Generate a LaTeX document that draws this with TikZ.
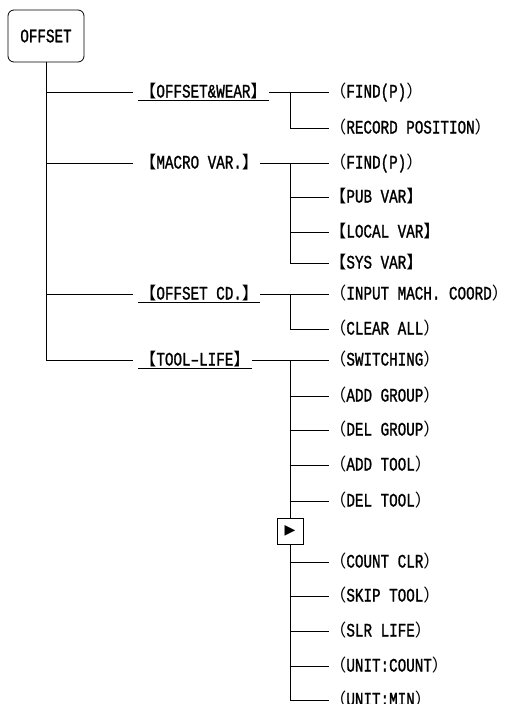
\documentclass[tikz,border=0pt]{standalone}
\usepackage{fontspec}
\setmainfont[FakeStretch=0.75,FakeBold=1.2]{Liberation Mono}
\newfontfamily\cjk{Noto Sans CJK SC}
\newfontfamily\symfont{DejaVu Sans}
\newcommand{\cj}[1]{{\cjk\fontsize{17}{17}\selectfont #1}}
\newcommand{\lb}{\cj{【}}
\newcommand{\rb}{\cj{】}}
\newcommand{\lp}{\cj{（}}
\newcommand{\rp}{\cj{）}}

\begin{document}
\begin{tikzpicture}[x=1pt,y=-1pt,line width=0.8pt,font=\fontsize{19}{19}\selectfont,
  root/.style={draw,rounded corners=6pt,minimum width=76pt,minimum height=52pt},
  menu/.style={anchor=west,inner xsep=1pt,inner ysep=1.5pt,text height=12pt,text depth=1pt},
  sub/.style={anchor=west,inner xsep=0pt,inner ysep=1.5pt,text height=12pt,text depth=1pt}]
  \useasboundingbox (0,0) rectangle (510,704);
  \node[root] (offset) at (46,36) {OFFSET};
  % primer nivel
  \node[menu] (wear)  at (138,92)  {\lb OFFSET\&WEAR\rb};
  \node[menu] (macro) at (138,163) {\lb MACRO VAR.\rb};
  \node[menu] (cd)    at (138,294) {\lb OFFSET CD.\rb};
  \node[menu] (life)  at (138,360) {\lb TOOL–LIFE\rb};
  \foreach \n in {wear,cd,life} \draw (\n.south west) -- (\n.south east);
  \draw[shorten >=5pt] (offset.south) |- (life.west);
  \foreach \n in {wear,macro,cd} \draw[shorten >=5pt] (offset.south |- \n.west) -- (\n.west);
  % segundo nivel
  \node[sub] (wfind) at (329,92)  {\lp FIND(P)\rp};
  \node[sub] (wrec)  at (329,128) {\lp RECORD POSITION\rp};
  \node[sub] (mfind) at (329,163) {\lp FIND(P)\rp};
  \node[sub] (pub)   at (329,197) {\lb PUB VAR\rb};
  \node[sub] (local) at (329,232) {\lb LOCAL VAR\rb};
  \node[sub] (sys)   at (329,263) {\lb SYS VAR\rb};
  \node[sub] (input) at (329,294) {\lp INPUT MACH. COORD\rp};
  \node[sub] (clear) at (329,329) {\lp CLEAR ALL\rp};
  \foreach \n/\y/\t in {sw/360/SWITCHING,addg/396/ADD GROUP,delg/430/DEL GROUP,addt/465/ADD TOOL,delt/501/DEL TOOL,
    cclr/562/COUNT CLR,skip/596/SKIP TOOL,slr/631/SLR LIFE,ucount/666/UNIT:COUNT,umin/700/UNIT:MIN}
    \node[sub] (\n) at (329,\y) {\lp\t\rp};
  \coordinate (jw) at (290,92); \coordinate (jm) at (290,163);
  \coordinate (jc) at (290,294); \coordinate (jl) at (290,360);
  \draw (wear.east) -- (wfind.west); \draw (jw) |- (wrec.west);
  \draw (macro.east) -- (mfind.west); \draw (jm) |- (sys.west);
  \foreach \n in {pub,local} \draw (jm |- \n.west) -- (\n.west);
  \draw (cd.east) -- (input.west); \draw (jc) |- (clear.west);
  \draw (life.east) -- (sw.west); \draw (jl) |- (umin.west);
  \foreach \n in {addg,delg,addt,delt,cclr,skip,slr,ucount} \draw (jl |- \n.west) -- (\n.west);
  % pagina siguiente
  \node[draw,fill=white,minimum size=26pt,inner sep=0pt] (more) at (290,531) {\symfont\fontsize{14}{14}\selectfont ▶};
\end{tikzpicture}
\end{document}
